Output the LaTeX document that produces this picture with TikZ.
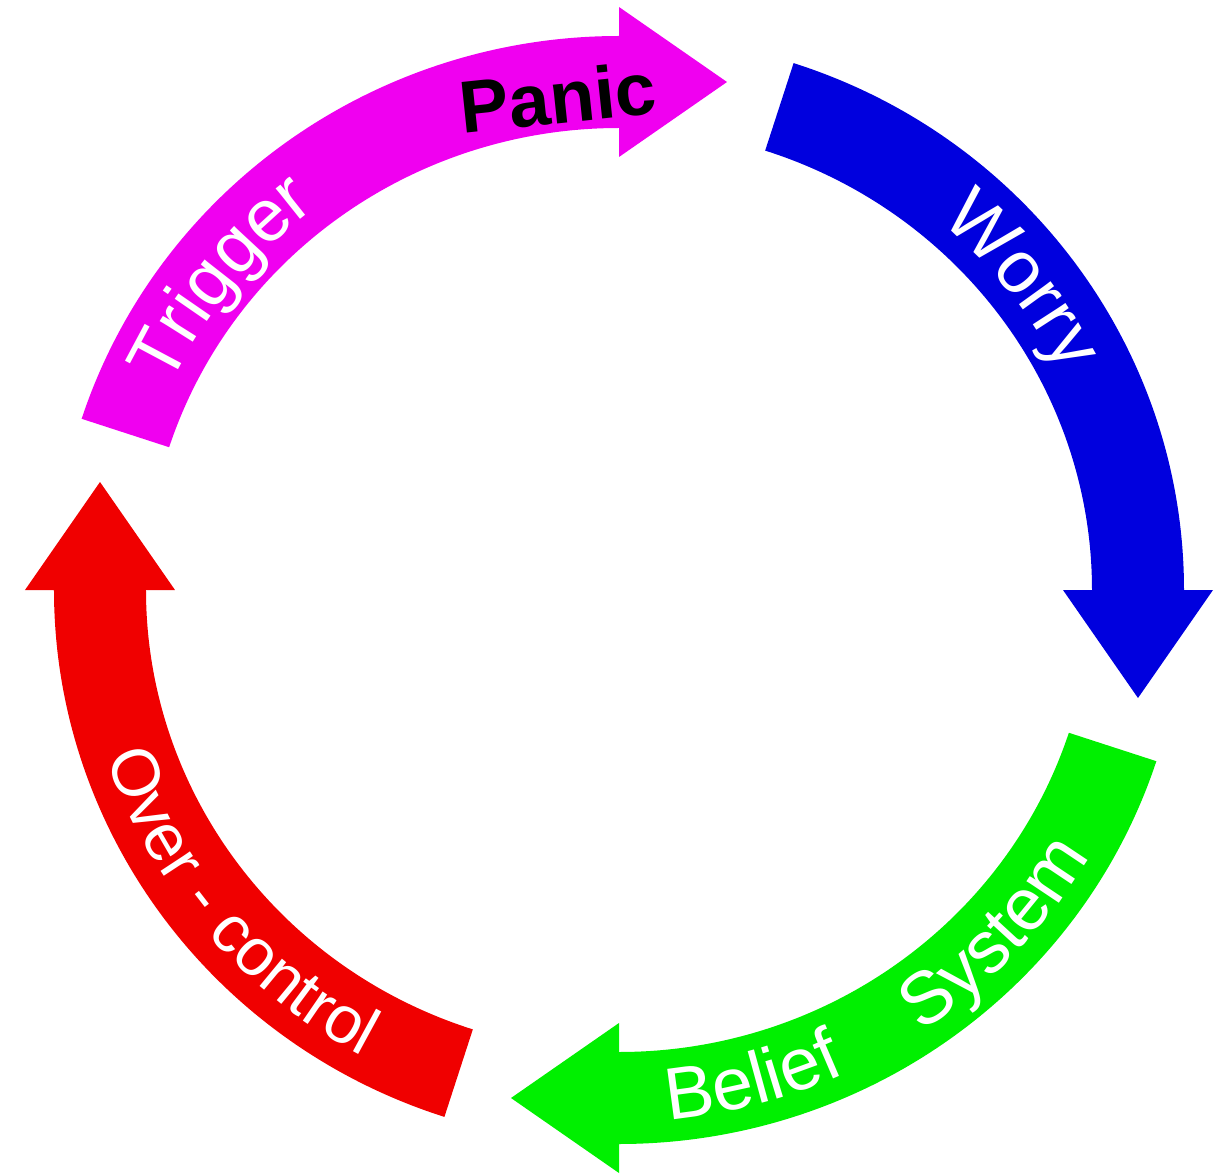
\documentclass[tikz,border=0pt]{standalone}
\usepackage{fontspec}
\setmainfont{Liberation Sans}
\usepackage{tikz}
\usetikzlibrary{decorations.text}
\definecolor{cycmagenta}{RGB}{240,0,240}
\definecolor{cycblue}{RGB}{0,0,222}
\definecolor{cycgreen}{RGB}{0,240,0}
\definecolor{cycred}{RGB}{240,0,0}
\newcommand{\arcfont}{\fontsize{42}{50}\selectfont}
\newcommand{\smallarcfont}{\fontsize{38}{46}\selectfont}
\tikzset{arcword/.style={decorate,decoration={text along path,text={|\arcfont|#1},text align=center,text color=white}},
  smallarcword/.style={decorate,decoration={text along path,text={|\smallarcfont|#1},text align=center,text color=white}}}

\begin{document}
\begin{tikzpicture}[x=0.02cm,y=0.02cm,line join=miter]
\useasboundingbox (-619,590) rectangle (611,-583);
% --- magenta: trigger -> panic
\fill[cycmagenta] (162:565 and 554) arc[start angle=162,end angle=90,x radius=565,y radius=554] -- (0,583) -- (108,508) -- (0,433) -- (90:473 and 462) arc[start angle=90,end angle=162,x radius=473,y radius=462] -- cycle;
% --- blue: worry
\fill[cycblue] (72:565 and 554) arc[start angle=72,end angle=0,x radius=565,y radius=554] -- (594,0) -- (519,-108) -- (444,0) -- (0:473 and 462) arc[start angle=0,end angle=72,x radius=473,y radius=462] -- cycle;
% --- green: belief system
\fill[cycgreen] (-18:565 and 554) arc[start angle=-18,end angle=-90,x radius=565,y radius=554] -- (0,-583) -- (-108,-508) -- (0,-433) -- (-90:473 and 462) arc[start angle=-90,end angle=-18,x radius=473,y radius=462] -- cycle;
% --- red: over-control
\fill[cycred] (252:565 and 554) arc[start angle=252,end angle=180,x radius=565,y radius=554] -- (-594,0) -- (-519,108) -- (-444,0) -- (180:473 and 462) arc[start angle=180,end angle=252,x radius=473,y radius=462] -- cycle;
% labels on the arrows
\path[arcword=Trigger] (166:495 and 484) arc[start angle=166,end angle=117,x radius=495,y radius=484];
\path[arcword=Worry] (62:495 and 484) arc[start angle=62,end angle=14,x radius=495,y radius=484];
\path[arcword=Belief] (-100:543 and 532) arc[start angle=-100,end angle=-50,x radius=543,y radius=532];
\path[arcword=System] (-68:543 and 532) arc[start angle=-68,end angle=-18,x radius=543,y radius=532];
\path[smallarcword={Over - control}] (189:541 and 530) arc[start angle=189,end angle=251,x radius=541,y radius=530];
\node[rotate=6,font=\arcfont\bfseries,text=black] (panic) at (-61,493) {Panic};
\end{tikzpicture}
\end{document}
